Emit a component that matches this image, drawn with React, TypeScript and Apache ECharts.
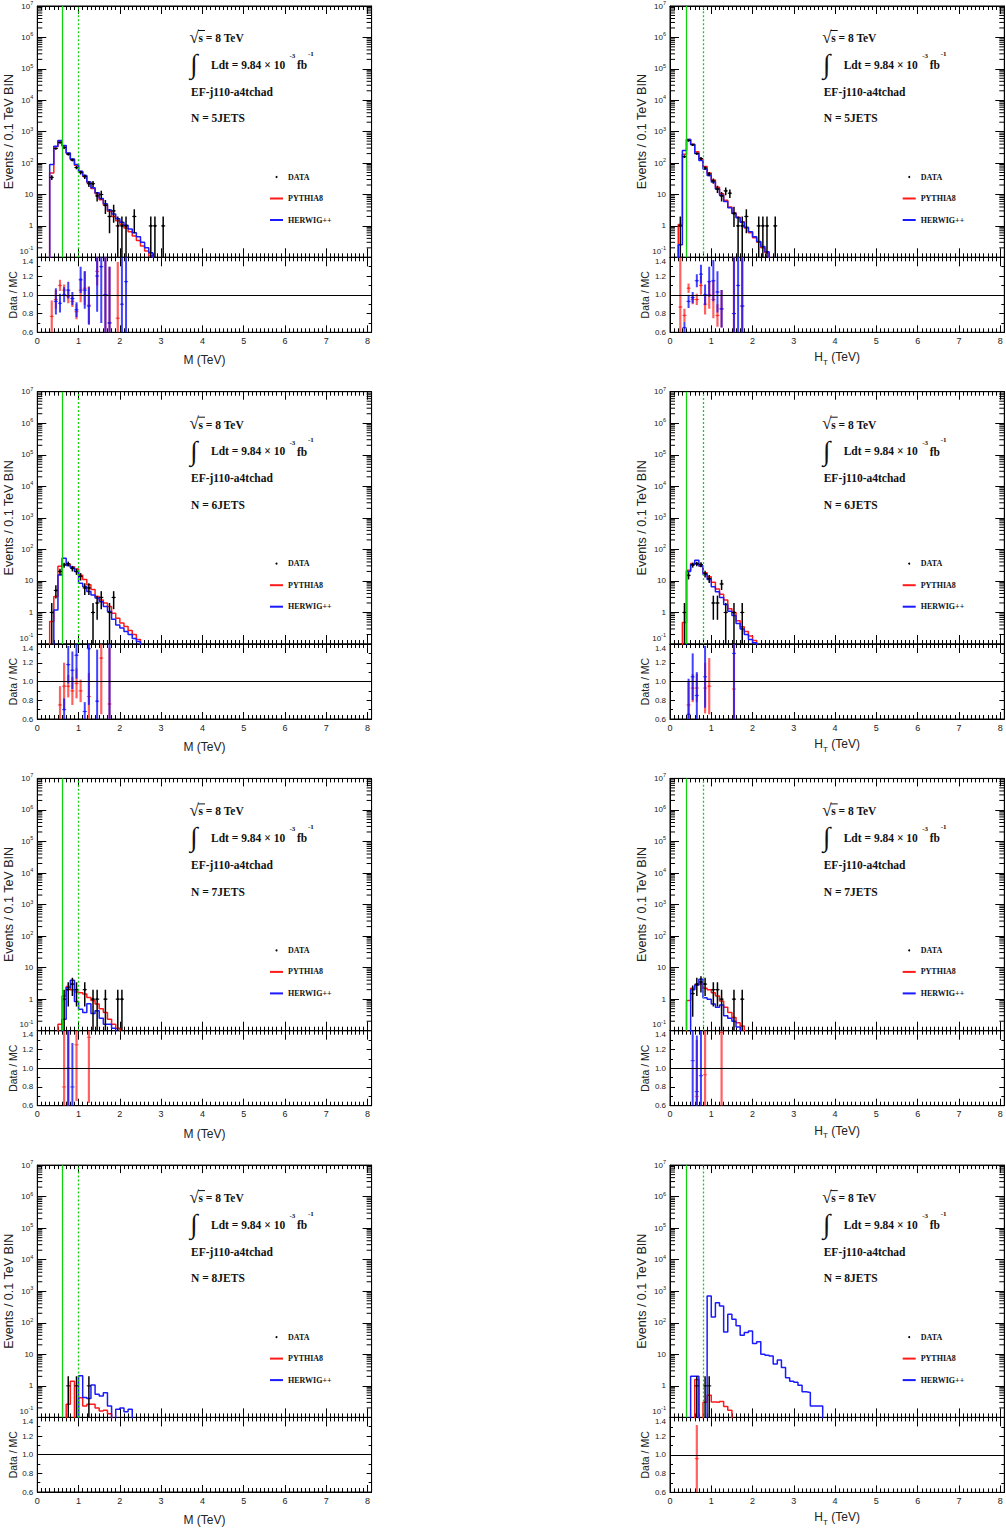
import React, { useEffect, useRef } from "react";
import * as echarts from "echarts";

// ---------------- tick labels ----------------
const X_TICK_LABELS = ["0", "1", "2", "3", "4", "5", "6", "7", "8"];
const RATIO_TICK_LABELS = ["0.6", "0.8", "1.0", "1.2", "1.4"];

// ---------------- cut lines (TeV) ----------------
const CUT_M = [0.6, 1.0];
const CUT_HT = [0.4, 0.8];

// ---------------- N = 5 JETS ----------------
const HW_M5_START = 0.3;
const HW_M5 = [90, 340, 520, 360, 210, 135, 90, 55, 40, 25, 16.5, 11.4, 7.4, 5.1, 3.2, 2.4, 1.7, 1.3, 1.05, 0.8, 0.6, 0.45, 0.3, 0.2, 0.14];
const PY_M5_START = 0.3;
const PY_M5 = [48, 330, 500, 350, 205, 130, 85, 52, 38, 24, 15.5, 10.5, 6.8, 4.6, 2.9, 2.0, 1.45, 1.1, 0.85, 0.65, 0.48, 0.34, 0.23, 0.16, 0.11];
const DATA_M5 = [[0.35, 35], [0.45, 290], [0.55, 450], [0.65, 310], [0.75, 190], [0.85, 125], [0.95, 72], [1.05, 50], [1.15, 37], [1.25, 22], [1.35, 22], [1.45, 9], [1.55, 10], [1.65, 4.5], [1.75, 2], [1.85, 3], [1.95, 1], [2.05, 1], [2.15, 1], [2.35, 2], [2.75, 1], [2.85, 1], [3.05, 1]];
const RATIO_PY_M5 = [[0.35, 0.77, 0.17], [0.45, 0.95, 0.1], [0.55, 1.1, 0.06], [0.65, 1.05, 0.06], [0.75, 0.98, 0.07], [0.85, 0.93, 0.06], [0.95, 0.82, 0.08], [1.05, 1.05, 0.13], [1.15, 1.07, 0.18], [1.25, 0.89, 0.2], [1.45, 1.25, 0.15], [1.65, 1.0, 0.4], [1.75, 0.7, 0.6], [1.95, 0.75, 0.6]];
const RATIO_HW_M5 = [[0.45, 0.93, 0.14], [0.55, 0.91, 0.1], [0.65, 1.0, 0.08], [0.75, 1.05, 0.09], [0.85, 0.96, 0.07], [0.95, 0.84, 0.08], [1.05, 1.16, 0.14], [1.15, 1.05, 0.2], [1.25, 0.88, 0.2], [1.45, 1.2, 0.38], [1.55, 1.3, 0.6], [1.65, 1.0, 0.6], [1.75, 0.7, 0.6], [2.05, 0.9, 0.6], [2.15, 1.14, 0.6]];

const HW_HT5_START = 0.2;
const HW_HT5 = [0.25, 250, 560, 390, 200, 120, 65, 40, 25, 15, 9.5, 6, 3.8, 2.5, 1.8, 1.3, 0.9, 0.65, 0.45, 0.32, 0.22, 0.15];
const PY_HT5_START = 0.2;
const PY_HT5 = [1.1, 190, 560, 400, 230, 135, 78, 48, 29, 17, 10.5, 6.5, 4.0, 2.6, 1.9, 1.35, 0.85, 0.6, 0.42, 0.3, 0.2, 0.14];
const DATA_HT5 = [[0.25, 1], [0.35, 160], [0.45, 520], [0.55, 380], [0.65, 200], [0.75, 140], [0.85, 70], [0.95, 45], [1.05, 27], [1.15, 15], [1.25, 9], [1.35, 13], [1.45, 11], [1.55, 2.5], [1.65, 1], [1.75, 1], [1.85, 2], [2.15, 1], [2.25, 1], [2.35, 1], [2.55, 1]];
const RATIO_PY_HT5 = [[0.25, 0.87, 0.6], [0.35, 0.78, 0.07], [0.45, 1.07, 0.05], [0.55, 0.95, 0.05], [0.65, 0.95, 0.06], [0.75, 1.1, 0.1], [0.85, 0.9, 0.11], [0.95, 1.0, 0.15], [1.05, 0.95, 0.2], [1.15, 0.78, 0.12], [1.25, 0.85, 0.2], [1.55, 0.8, 0.6], [1.75, 0.88, 0.6]];
const RATIO_HW_HT5 = [[0.35, 0.65, 0.06], [0.45, 0.93, 0.07], [0.55, 0.97, 0.06], [0.65, 1.15, 0.07], [0.75, 1.22, 0.1], [0.85, 1.0, 0.11], [0.95, 1.14, 0.16], [1.05, 1.15, 0.22], [1.15, 1.03, 0.22], [1.25, 0.85, 0.2], [1.55, 0.8, 0.6], [1.65, 1.1, 0.6], [1.75, 0.88, 0.6]];

// ---------------- N = 6 JETS ----------------
const HW_M6_START = 0.4;
const HW_M6 = [1.2, 15.5, 52, 31, 26, 20, 8.5, 6.7, 4.6, 3.6, 2.9, 2.2, 1.55, 1.07, 0.61, 0.4, 0.32, 0.25, 0.2, 0.15, 0.12];
const PY_M6_START = 0.3;
const PY_M6 = [0.52, 3.2, 29, 33, 34, 28, 24, 15, 11, 7.5, 5.3, 3.2, 2.5, 2.0, 1.55, 0.95, 0.66, 0.46, 0.36, 0.27, 0.2, 0.14];
const DATA_M6 = [[0.35, 1], [0.45, 5], [0.55, 20], [0.65, 32], [0.75, 35], [0.85, 25], [0.95, 20], [1.05, 14], [1.15, 6], [1.25, 6], [1.35, 1], [1.45, 2], [1.55, 3], [1.75, 1], [1.85, 3]];
const RATIO_PY_M6 = [[0.55, 0.75, 0.2], [0.65, 0.95, 0.25], [0.75, 0.95, 0.12], [0.85, 0.9, 0.15], [0.95, 0.98, 0.16], [1.05, 0.9, 0.12], [1.25, 0.84, 0.25], [1.55, 1.25, 0.6], [1.75, 0.76, 0.6]];
const RATIO_HW_M6 = [[0.65, 0.7, 0.12], [0.75, 1.18, 0.2], [0.85, 1.12, 0.2], [0.95, 1.28, 0.25], [1.15, 0.68, 0.1], [1.25, 1.35, 0.6], [1.45, 0.79, 0.55], [1.75, 1.0, 0.6]];

const HW_HT6_START = 0.4;
const HW_HT6 = [20, 33, 45, 30, 16, 11, 6.5, 4.5, 3, 1.8, 1.1, 0.8, 0.45, 0.3, 0.2, 0.14, 0.11];
const PY_HT6_START = 0.3;
const PY_HT6 = [0.48, 22, 36, 35, 30, 18, 13.5, 9, 5.5, 3.8, 2.5, 1.3, 1.0, 0.55, 0.35, 0.25, 0.18, 0.13];
const DATA_HT6 = [[0.35, 1], [0.45, 15], [0.55, 32], [0.65, 35], [0.75, 33], [0.85, 17], [0.95, 12], [1.05, 2], [1.15, 2], [1.25, 8], [1.35, 1], [1.55, 1], [1.75, 1]];
const RATIO_PY_HT6 = [[0.45, 0.75, 0.25], [0.55, 0.93, 0.15], [0.65, 0.93, 0.15], [0.85, 0.93, 0.27], [0.95, 0.95, 0.3], [1.55, 0.92, 0.6]];
const RATIO_HW_HT6 = [[0.45, 0.65, 0.38], [0.55, 1.05, 0.25], [0.65, 0.85, 0.25], [0.85, 1.05, 0.33], [1.55, 1.3, 0.7]];

// ---------------- N = 7 JETS ----------------
const HW_M7_START = 0.6;
const HW_M7 = [0.23, 2.3, 4, 0.85, 0.48, 0.38, 0.72, 0.35, 0.43, 0.25, 0.16, 0.16, 0.12];
const PY_M7_START = 0.5;
const PY_M7 = [0.16, 1.27, 2.5, 2.0, 1.7, 1.6, 1.45, 1.13, 0.9, 0.7, 0.5, 0.38, 0.23, 0.16, 0.12];
const DATA_M7 = [[0.65, 1], [0.75, 2], [0.85, 3], [0.95, 2], [1.15, 2], [1.35, 1], [1.45, 1], [1.65, 1], [1.95, 1], [2.05, 1]];
const RATIO_PY_M7 = [[0.65, 0.8, 0.6], [0.75, 1.0, 0.6], [0.95, 1.25, 0.6], [1.25, 1.33, 0.7]];
const RATIO_HW_M7 = [[0.75, 1.0, 0.6], [0.85, 0.8, 0.47]];

const HW_HT7_START = 0.5;
const HW_HT7 = [2.0, 2.8, 4.3, 1.1, 1.0, 0.7, 0.55, 0.65, 0.3, 0.25, 0.2, 0.13];
const PY_HT7_START = 0.4;
const PY_HT7 = [0.9, 2.2, 2.8, 3.0, 2.2, 2.0, 1.6, 1.27, 0.88, 0.55, 0.38, 0.26, 0.18, 0.14];
const DATA_HT7 = [[0.55, 1.5], [0.65, 3], [0.75, 3.5], [0.85, 3], [1.05, 2], [1.15, 2], [1.25, 1], [1.55, 1], [1.75, 1]];
const RATIO_PY_HT7 = [[0.65, 0.7, 0.6], [0.85, 0.93, 0.6], [1.25, 1.38, 0.8]];
const RATIO_HW_HT7 = [[0.55, 1.08, 0.6], [0.65, 0.75, 0.6], [0.75, 0.92, 0.6]];

// ---------------- N = 8 JETS ----------------
const HW_M8_START = 1.0;
const HW_M8 = [2.1, 0.43, 0.4, 1.07, 0.54, 0.48, 0.6, 0.23, 0, 0.18, 0.2, 0.15, 0.18];
const PY_M8_START = 0.7;
const PY_M8 = [0.26, 1.4, 0, 0.42, 0.23, 0.26, 0.26, 0.2, 0.16, 0.17, 0.13];
const DATA_M8 = [[0.75, 1], [0.95, 1], [1.25, 1]];
const RATIO_PY_M8: number[][] = [];
const RATIO_HW_M8: number[][] = [];

const HW_HT8_START = 0.5;
const HW_HT8 = [2, 2, 0, 0, 710, 153, 435, 340, 51, 186, 130, 80, 40, 49, 55, 22, 25, 10, 9.4, 8.9, 4.9, 6.6, 3.8, 1.8, 1.4, 1.3, 1.05, 0.65, 0.62, 0.23, 0.23, 0.23];
const PY_HT8_START = 0.6;
const PY_HT8 = [1.6, 0, 0.3, 0.5, 0.31, 0.3, 0.32, 0.22, 0.17];
const DATA_HT8 = [[0.65, 1], [0.85, 1], [0.95, 1]];
const RATIO_PY_HT8 = [[0.65, 0.96, 0.36]];
const RATIO_HW_HT8: number[][] = [];

const PANELS = [
  { ht: false, n: 5, cut: CUT_M, pyStart: PY_M5_START, py: PY_M5, hwStart: HW_M5_START, hw: HW_M5, data: DATA_M5, rPy: RATIO_PY_M5, rHw: RATIO_HW_M5 },
  { ht: true, n: 5, cut: CUT_HT, pyStart: PY_HT5_START, py: PY_HT5, hwStart: HW_HT5_START, hw: HW_HT5, data: DATA_HT5, rPy: RATIO_PY_HT5, rHw: RATIO_HW_HT5 },
  { ht: false, n: 6, cut: CUT_M, pyStart: PY_M6_START, py: PY_M6, hwStart: HW_M6_START, hw: HW_M6, data: DATA_M6, rPy: RATIO_PY_M6, rHw: RATIO_HW_M6 },
  { ht: true, n: 6, cut: CUT_HT, pyStart: PY_HT6_START, py: PY_HT6, hwStart: HW_HT6_START, hw: HW_HT6, data: DATA_HT6, rPy: RATIO_PY_HT6, rHw: RATIO_HW_HT6 },
  { ht: false, n: 7, cut: CUT_M, pyStart: PY_M7_START, py: PY_M7, hwStart: HW_M7_START, hw: HW_M7, data: DATA_M7, rPy: RATIO_PY_M7, rHw: RATIO_HW_M7 },
  { ht: true, n: 7, cut: CUT_HT, pyStart: PY_HT7_START, py: PY_HT7, hwStart: HW_HT7_START, hw: HW_HT7, data: DATA_HT7, rPy: RATIO_PY_HT7, rHw: RATIO_HW_HT7 },
  { ht: false, n: 8, cut: CUT_M, pyStart: PY_M8_START, py: PY_M8, hwStart: HW_M8_START, hw: HW_M8, data: DATA_M8, rPy: RATIO_PY_M8, rHw: RATIO_HW_M8 },
  { ht: true, n: 8, cut: CUT_HT, pyStart: PY_HT8_START, py: PY_HT8, hwStart: HW_HT8_START, hw: HW_HT8, data: DATA_HT8, rPy: RATIO_PY_HT8, rHw: RATIO_HW_HT8 },
];

// ---------------- layout / style ----------------
const ROW_H = 386.7;
const MAIN_TOP = 5;
const MAIN_H = 252.3;
const RATIO_H = 75;
const COL_LEFT = [37.3, 670];
const COL_DX = 632.7;
const GRID_W = 334.3;
const X_MAX = 8.1;
const BIN = 0.1;
const FLOOR = 0.003;
const RED = "#ff1a1a";
const BLUE = "#1a1aff";
const GREEN = "#10d010";
const SANS = "Liberation Sans, Arial, sans-serif";
const SERIF = "Liberation Serif, Times New Roman, serif";

const LOG_MINOR: number[] = [];
for (let e = -1; e <= 6; e++) for (let k = 2; k <= 9; k++) LOG_MINOR.push(k * Math.pow(10, e));

function histPoints(start: number, vals: number[]) {
  const pts: number[][] = [[start, FLOOR]];
  vals.forEach((v, i) => pts.push([+(start + i * BIN).toFixed(3), v > 0 ? v : FLOOR]));
  const end = +(start + vals.length * BIN).toFixed(3);
  const last = vals[vals.length - 1];
  pts.push([end, last > 0 ? last : FLOOR]);
  pts.push([end, FLOOR]);
  return pts;
}

function errRender(color: string, width: number, dot: number) {
  return (params: any, api: any) => {
    const x = api.value(0), y = api.value(1), lo = api.value(2), hi = api.value(3);
    const c = api.coord([x, y]);
    const a = api.coord([x, lo]);
    const b = api.coord([x, hi]);
    const l = api.coord([x - BIN / 2, y]);
    const r = api.coord([x + BIN / 2, y]);
    return {
      type: "group",
      children: [
        { type: "line", shape: { x1: c[0], y1: a[1], x2: c[0], y2: b[1] }, style: { stroke: color, lineWidth: width } },
        { type: "line", shape: { x1: l[0], y1: c[1], x2: r[0], y2: c[1] }, style: { stroke: color, lineWidth: 1 } },
        { type: "circle", shape: { cx: c[0], cy: c[1], r: dot }, style: { fill: color } },
      ],
    };
  };
}

function minorTickRender(params: any, api: any) {
  const v = api.value(1);
  const a = api.coord([0, v]);
  const b = api.coord([X_MAX, v]);
  return {
    type: "group",
    children: [
      { type: "line", shape: { x1: a[0], y1: a[1], x2: a[0] + 5, y2: a[1] }, style: { stroke: "#000", lineWidth: 1 } },
      { type: "line", shape: { x1: b[0] - 5, y1: b[1], x2: b[0], y2: b[1] }, style: { stroke: "#000", lineWidth: 1 } },
    ],
  };
}

function xAx(gridIndex: number, position: string, showLabels: boolean, tickLen: number, minorLen: number, name?: string, nameGap = 19) {
  return {
    type: "value",
    gridIndex,
    position,
    min: 0,
    max: X_MAX,
    interval: 1,
    axisLine: { show: true, onZero: false, lineStyle: { color: "#000", width: 1 } },
    axisTick: { show: true, inside: true, length: tickLen, lineStyle: { color: "#000", width: 1 } },
    minorTick: { show: true, splitNumber: 10, length: minorLen, lineStyle: { color: "#000", width: 1 } },
    splitLine: { show: false },
    minorSplitLine: { show: false },
    axisLabel: showLabels
      ? {
          show: true,
          showMaxLabel: false,
          margin: 4,
          fontSize: 9,
          fontFamily: SANS,
          color: "#222",
          formatter: (v: number) => {
            const k = Math.round(v);
            return Math.abs(v - k) < 1e-6 && X_TICK_LABELS[k] !== undefined ? X_TICK_LABELS[k] : "";
          },
        }
      : { show: false },
    name: name || "",
    nameLocation: "middle",
    nameGap,
    nameTextStyle: {
      fontSize: 12,
      fontFamily: SANS,
      color: "#222",
      lineHeight: 18,
      rich: { sub: { fontSize: 8, lineHeight: 6, verticalAlign: "bottom", fontFamily: SANS, color: "#222" } },
    },
  };
}

function buildOption() {
  const grid: any[] = [];
  const xAxis: any[] = [];
  const yAxis: any[] = [];
  const series: any[] = [];
  const legend: any[] = [];
  const graphic: any[] = [];

  PANELS.forEach((p, i) => {
    const row = Math.floor(i / 2);
    const col = i % 2;
    const left = COL_LEFT[col];
    const top = MAIN_TOP + row * ROW_H;
    const dx = col * COL_DX;
    const dy = row * ROW_H;
    const gm = 2 * i;
    const gr = 2 * i + 1;
    grid.push({ left, top, width: GRID_W, height: MAIN_H, show: true, borderColor: "#000", borderWidth: 1 });
    grid.push({ left, top: top + MAIN_H, width: GRID_W, height: RATIO_H, show: true, borderColor: "#000", borderWidth: 1 });

    const xm = 4 * i, xr = 4 * i + 2;
    xAxis.push(xAx(gm, "bottom", false, 9, 4));
    xAxis.push(xAx(gm, "top", false, 8, 4));
    xAxis.push(xAx(gr, "bottom", true, 7, 4, p.ht ? "H{sub|T} (TeV)" : "M (TeV)", p.ht ? 16 : 19));
    xAxis.push(xAx(gr, "top", false, 9, 4));

    const logAx = (position: string, labels: boolean) => ({
      type: "log",
      logBase: 10,
      gridIndex: gm,
      position,
      min: 0.1,
      max: 1e7,
      splitNumber: 8,
      axisLine: { show: true, onZero: false, lineStyle: { color: "#000" } },
      axisTick: { show: true, inside: true, length: 9, lineStyle: { color: "#000" } },
      splitLine: { show: false },
      axisLabel: labels
        ? {
            show: true,
            margin: 4,
            fontSize: 8,
            lineHeight: 12,
            fontFamily: SANS,
            color: "#222",
            verticalAlignMinLabel: "bottom",
            formatter: (v: number) => {
              const e = Math.round(Math.log10(v));
              if (e === 0) return "1";
              if (e === 1) return "10";
              return "10{e|" + e + "}";
            },
            rich: { e: { fontSize: 5.5, lineHeight: 5, verticalAlign: "top", fontFamily: SANS, color: "#222" } },
          }
        : { show: false },
      name: labels ? "Events / 0.1 TeV BIN" : "",
      nameLocation: "middle",
      nameGap: 14,
      nameTextStyle: { fontSize: 12.5, fontFamily: SANS, color: "#222" },
    });
    const ratioAx = (position: string, labels: boolean) => ({
      type: "value",
      gridIndex: gr,
      position,
      min: 0.6,
      max: 1.4,
      interval: 0.2,
      axisLine: { show: true, onZero: false, lineStyle: { color: "#000" } },
      axisTick: { show: true, inside: true, length: 5, lineStyle: { color: "#000" } },
      minorTick: { show: true, splitNumber: 2, length: 3, lineStyle: { color: "#000" } },
      splitLine: { show: false },
      axisLabel: labels
        ? {
            show: true,
            margin: 4,
            fontSize: 8,
            fontFamily: SANS,
            color: "#222",
            verticalAlignMaxLabel: "top",
            formatter: (v: number) => {
              const k = Math.round((v - 0.6) / 0.2);
              return RATIO_TICK_LABELS[k] || "";
            },
          }
        : { show: false },
      name: labels ? "Data / MC" : "",
      nameLocation: "middle",
      nameGap: 18,
      nameTextStyle: { fontSize: 10.5, fontFamily: SANS, color: "#222" },
    });
    yAxis.push(logAx("left", true));
    yAxis.push(logAx("right", false));
    yAxis.push(ratioAx("left", true));
    yAxis.push(ratioAx("right", false));

    // log minor ticks
    series.push({
      type: "custom",
      xAxisIndex: xm,
      yAxisIndex: xm,
      data: LOG_MINOR.map((v) => [0, v]),
      renderItem: minorTickRender,
      silent: true,
      z: 1,
    });

    series.push({
      name: "PYTHIA8",
      type: "line",
      xAxisIndex: xm,
      yAxisIndex: xm,
      step: "end",
      data: histPoints(p.pyStart, p.py),
      showSymbol: false,
      symbol: "none",
      clip: true,
      itemStyle: { color: RED },
      lineStyle: { color: RED, width: 1.5 },
      z: 2,
      markLine: {
        silent: true,
        symbol: "none",
        label: { show: false },
        lineStyle: { color: GREEN, width: 1.3 },
        data: [
          { xAxis: p.cut[0], lineStyle: { type: "solid", color: GREEN, width: 1.3 } },
          { xAxis: p.cut[1], lineStyle: { type: [2, 2], color: GREEN, width: 1.3 } },
        ],
      },
    });
    series.push({
      name: "HERWIG++",
      type: "line",
      xAxisIndex: xm,
      yAxisIndex: xm,
      step: "end",
      data: histPoints(p.hwStart, p.hw),
      showSymbol: false,
      symbol: "none",
      clip: true,
      itemStyle: { color: BLUE },
      lineStyle: { color: BLUE, width: 1.5 },
      z: 3,
    });
    series.push({
      name: "DATA",
      type: "custom",
      xAxisIndex: xm,
      yAxisIndex: xm,
      clip: true,
      itemStyle: { color: "#000" },
      data: p.data.map(([x, y]) => [x, y, Math.max(y - Math.sqrt(y), 0.001), y + Math.sqrt(y)]),
      renderItem: errRender("#000", 1.5, 1.2),
      z: 4,
    });

    // ratio panel
    series.push({
      name: "unity",
      type: "line",
      xAxisIndex: xr,
      yAxisIndex: xr,
      data: [],
      markLine: {
        silent: true,
        symbol: "none",
        label: { show: false },
        lineStyle: { color: "#000", width: 1, type: "solid" },
        data: [{ yAxis: 1.0 }],
      },
    });
    series.push({
      name: "ratioPY",
      type: "custom",
      xAxisIndex: xr,
      yAxisIndex: xr,
      clip: true,
      data: p.rPy.map(([x, v, e]) => [x, v, v - e, v + e]),
      renderItem: errRender("rgba(255,30,30,0.7)", 2.2, 1.1),
      z: 3,
    });
    series.push({
      name: "ratioHW",
      type: "custom",
      xAxisIndex: xr,
      yAxisIndex: xr,
      clip: true,
      data: p.rHw.map(([x, v, e]) => [x, v, v - e, v + e]),
      renderItem: errRender("rgba(20,20,255,0.8)", 2, 1.1),
      z: 4,
    });

    legend.push({
      data: [
        { name: "DATA", icon: "circle" },
        { name: "PYTHIA8", icon: "rect" },
        { name: "HERWIG++", icon: "rect" },
      ],
      orient: "vertical",
      left: 265 + dx,
      top: 167 + dy,
      itemWidth: 13,
      itemHeight: 2,
      itemGap: 11.5,
      selectedMode: false,
      textStyle: { fontFamily: SERIF, fontWeight: "bold", fontSize: 8, lineHeight: 10, color: "#111" },
    });

    const txt = (text: string, x: number, y: number, size: number, weight = "bold") => ({
      type: "text",
      x: x + dx,
      y: y + dy,
      silent: true,
      style: {
        text,
        fontSize: size,
        fontWeight: weight,
        fontFamily: SERIF,
        fill: "#111",
        align: "left",
        verticalAlign: "middle",
        textAlign: "left",
        textVerticalAlign: "middle",
      },
    });
    graphic.push(txt("\u221A", 189.5, 37, 17, "normal"));
    graphic.push({
      type: "line",
      silent: true,
      shape: { x1: 198 + dx, y1: 30.5 + dy, x2: 205 + dx, y2: 30.5 + dy },
      style: { stroke: "#111", lineWidth: 1 },
    });
    graphic.push(txt("s = 8 TeV", 198.5, 38, 11.5));
    graphic.push(txt("\u222B", 190, 64, 27, "normal"));
    graphic.push(txt("Ldt = 9.84 \u00D7 10", 211, 64.5, 11.5));
    graphic.push(txt("-3", 289.5, 56, 7));
    graphic.push(txt("fb", 297, 65, 11.5));
    graphic.push(txt("-1", 308, 53.5, 7));
    graphic.push(txt("EF-j110-a4tchad", 191, 91.7, 11.5));
    graphic.push(txt("N = " + p.n + "JETS", 191, 118.3, 11.5));
  });

  return { animation: false, grid, xAxis, yAxis, series, legend, graphic };
}

export default function App() {
  const ref = useRef<HTMLDivElement>(null);
  useEffect(() => {
    if (!ref.current) return;
    const chart = echarts.init(ref.current, undefined, { renderer: "svg" });
    chart.setOption(buildOption() as any);
    return () => chart.dispose();
  }, []);
  return (
    <div
      ref={ref}
      style={{ position: "absolute", left: 0, top: 0, width: 1006, height: 1530, background: "#fff" }}
    />
  );
}
